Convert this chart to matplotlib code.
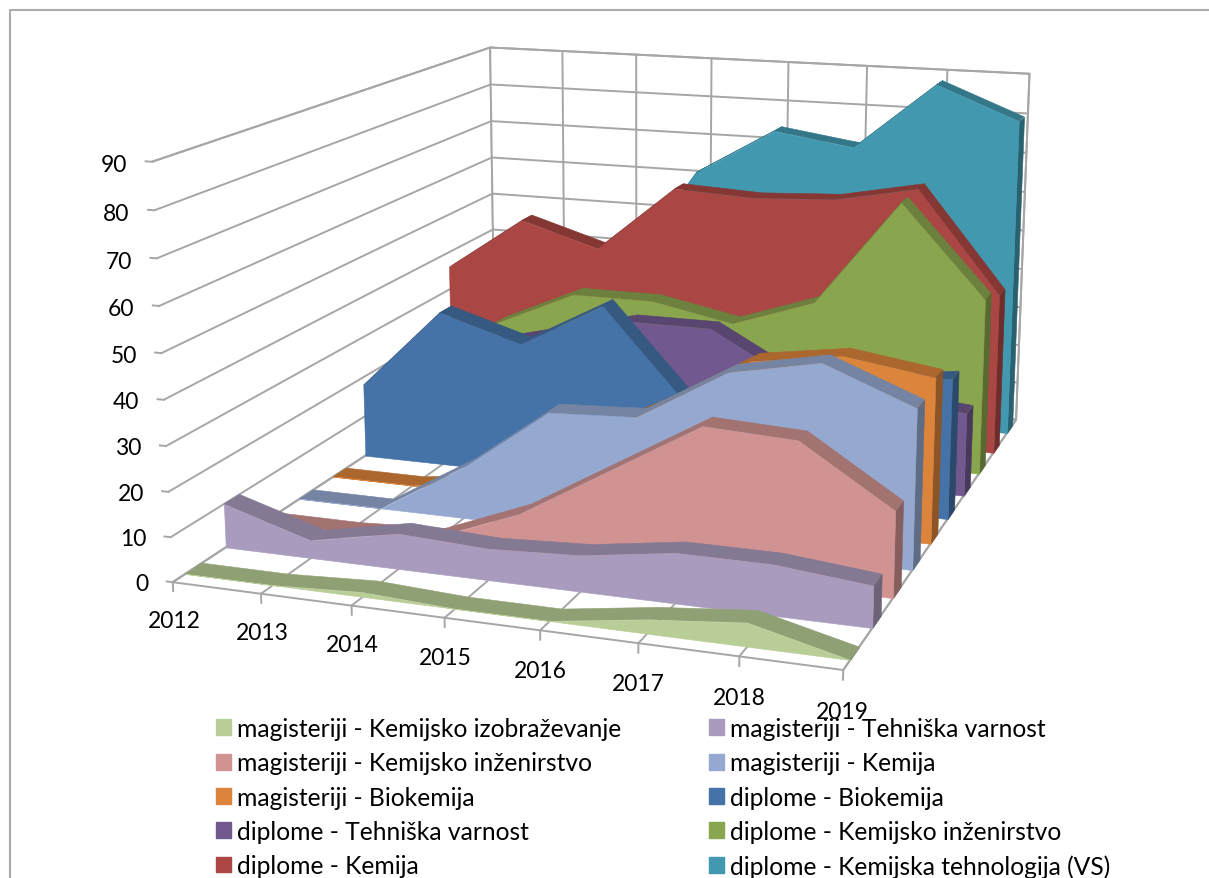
import numpy as np
import matplotlib
matplotlib.use('Agg')
import matplotlib.pyplot as plt
from matplotlib.colors import to_rgb
from matplotlib.lines import Line2D
from matplotlib.patches import Patch
from mpl_toolkits.mplot3d import proj3d
from mpl_toolkits.mplot3d.art3d import Poly3DCollection

plt.rcParams['font.family'] = ['Lato', 'DejaVu Sans']

W, H = 1209, 879

years = [2012, 2013, 2014, 2015, 2016, 2017, 2018, 2019]
z_ticks = [0, 10, 20, 30, 40, 50, 60, 70, 80, 90]

# series, front to back
names = ['magisteriji - Kemijsko izobraževanje', 'magisteriji - Tehniška varnost',
         'magisteriji - Kemijsko inženirstvo', 'magisteriji - Kemija',
         'magisteriji - Biokemija', 'diplome - Biokemija',
         'diplome - Tehniška varnost', 'diplome - Kemijsko inženirstvo',
         'diplome - Kemija', 'diplome - Kemijska tehnologija (VS)']
mag_izob = [0, 0, 1, 0, 0, 3, 5, 0]
mag_tv = [10, 4, 8, 7, 8, 11, 11, 9]
mag_inz = [0, 0, 1, 9, 21, 33, 32, 19]
mag_kem = [0, 0, 12, 27, 28, 40, 44, 36]
mag_bio = [0, 0, 3, 15, 26, 38, 41, 38]
dip_bio = [18, 38, 32, 43, 21, 24, 30, 33]
dip_tv = [20, 25, 30, 35, 35, 24, 22, 20]
dip_inz = [15, 27, 36, 36, 32, 39, 65, 43]
dip_kem = [36, 50, 44, 61, 60, 61, 65, 40]
dip_teh = [25, 30, 33, 62, 74, 71, 88, 80]
series = [mag_izob, mag_tv, mag_inz, mag_kem, mag_bio, dip_bio, dip_tv, dip_inz, dip_kem, dip_teh]
colors = ['#B9CD96', '#A99BBD', '#D19392', '#95A9D0', '#DD843C',
          '#4572A7', '#71588F', '#89A54E', '#AA4643', '#4198AF']


def shade(col, k):
    return tuple(np.array(to_rgb(col)) * k)


fig = plt.figure(figsize=(W/100, H/100), dpi=100)
ax = fig.add_subplot(projection='3d', computed_zorder=False)
ax.set_position([226.3/W, 160.56/H, 800/W, 800/H])
ax.set_facecolor('none')
ax.view_init(13.97, -70.72, 0.03)
ax.set_proj_type('persp', focal_length=0.5612)
ax.set_box_aspect((1.6171, 1.9673, 1), zoom=1.2983)

n = len(years)
xs = np.arange(n)
for i, vals in enumerate(series):
    yf, yb = i + 0.3, i + 0.7
    col = colors[i]
    top = [[(k, yf, vals[k]), (k+1, yf, vals[k+1]), (k+1, yb, vals[k+1]), (k, yb, vals[k])] for k in range(n-1)]
    side = [[(n-1, yf, 0), (n-1, yb, 0), (n-1, yb, vals[-1]), (n-1, yf, vals[-1])]]
    front = [[(0, yf, 0)] + [(k, yf, vals[k]) for k in xs] + [(n-1, yf, 0)]]
    base = (10 - i) * 3
    for j, (faces, c) in enumerate([(top, shade(col, 0.78)), (side, shade(col, 0.64)), (front, col)]):
        poly = Poly3DCollection(faces, facecolors=c, edgecolors=c, linewidths=0.4, zorder=base + j)
        poly.set_clip_on(False)
        ax.add_collection3d(poly, autolim=False)

ax.set_xlim(0, n-1)
ax.set_ylim(0, 10)
ax.set_zlim(0, 90)
ax.set_xticks(xs)
ax.set_yticks([])
ax.set_zticks(z_ticks)
ax.xaxis.set_ticklabels([])
ax.zaxis.set_ticklabels([])
ax.tick_params(color='none')
grey = '#A6A6A6'
for axis in (ax.xaxis, ax.yaxis, ax.zaxis):
    axis.set_pane_color('white')
    axis.pane.set_edgecolor(grey)
    axis.pane.set_linewidth(1.4)
    axis.line.set_color('none')
    axis._axinfo['grid'].update(color=grey, linewidth=1.4, linestyle='-')


def label(x, y, z, txt, ha):
    px, py, _ = proj3d.proj_transform(x, y, z, ax.get_proj())
    ax.text2D(px, py, txt, ha=ha, va='center', fontsize=16.5, color='black')


# tick marks and labels
for k, year in enumerate(years):
    ax.plot([k, k], [0, 0], [0, -2], color=grey, lw=1.4, clip_on=False, zorder=0)
    label(k, 0, -8.6, str(year), 'center')
for v in z_ticks:
    ax.plot([0, -0.07], [0, 0], [v, v], color=grey, lw=1.4, clip_on=False, zorder=0)
    label(-0.28, 0, v - 1, str(v), 'right')

# legend is filled row by row
order = [0, 2, 4, 6, 8, 1, 3, 5, 7, 9]
handles = [Patch(color=colors[i], label=names[i]) for i in order]
fig.legend(handles=handles, ncol=2, loc='upper left', bbox_to_anchor=(216/W, 1 - 718/H),
           frameon=False, fontsize=17.7, handlelength=0.61, handleheight=0.61, handletextpad=0.25,
           labelspacing=0.46, columnspacing=3.56, borderpad=0, borderaxespad=0)

# chart frame
fig.add_artist(Line2D([10/W, 10/W, 1], [0, 1 - 11/H, 1 - 11/H], color='#ABABAB', lw=1.5))

fig.savefig('out.png', dpi=100)
